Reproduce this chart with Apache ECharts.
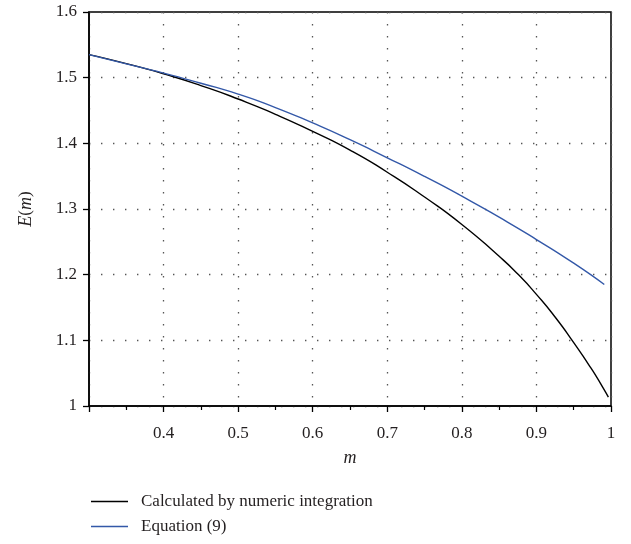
<!DOCTYPE html>
<html>
<head>
<meta charset="utf-8">
<script src="https://cdn.jsdelivr.net/npm/echarts@6/dist/echarts.min.js"></script>
<style>
html,body{margin:0;padding:0;background:#fff;}
#chart{width:631px;height:544px;}
</style>
</head>
<body>
<div id="chart"></div>
<script>
// Data
const numericX = [0.30, 0.35, 0.40, 0.45, 0.50, 0.55, 0.60, 0.65, 0.70, 0.75, 0.80, 0.85, 0.875, 0.90, 0.925, 0.95, 0.97, 0.98, 0.99, 0.9965];
const numericY = [1.535, 1.5213, 1.5058, 1.488, 1.4675, 1.4442, 1.4181, 1.3897, 1.356, 1.3182, 1.2765, 1.2279, 1.2009, 1.170, 1.1355, 1.0965, 1.063, 1.0455, 1.0265, 1.0136];
const eq9X = [0.30, 0.35, 0.40, 0.45, 0.50, 0.55, 0.60, 0.65, 0.70, 0.75, 0.80, 0.85, 0.90, 0.95, 0.991];
const eq9Y = [1.535, 1.521, 1.507, 1.4915, 1.475, 1.4545, 1.431, 1.4055, 1.378, 1.3495, 1.3195, 1.2875, 1.2535, 1.2175, 1.185];
const seriesNames = ['Calculated by numeric integration', 'Equation (9)'];
const xTicks = [0.3, 0.4, 0.5, 0.6, 0.7, 0.8, 0.9, 1.0];
const yTicks = [1.0, 1.1, 1.2, 1.3, 1.4, 1.5, 1.6];

const font = '"Liberation Serif", "DejaVu Serif", serif';
const textColor = '#231f20';
const gridDots = { color: '#555', width: 1.3, type: [1.4, 10.6] };

const chart = echarts.init(document.getElementById('chart'));
chart.setOption({
  animation: false,
  backgroundColor: '#fff',
  grid: {
    left: 89, right: 20, top: 12, height: 394,
    show: true, borderColor: '#000', borderWidth: 1.5, backgroundColor: 'transparent'
  },
  legend: {
    orient: 'vertical', left: 86, top: 487,
    itemWidth: 37, itemHeight: 1.3, itemGap: 6,
    icon: 'rect',
    data: seriesNames,
    textStyle: { fontFamily: font, fontSize: 17, color: textColor, padding: [0, 0, 0, 8], lineHeight: 19 }
  },
  xAxis: {
    type: 'value',
    min: xTicks[0], max: xTicks[xTicks.length - 1], interval: 0.1,
    name: '{i|m}', nameLocation: 'middle', nameGap: 43,
    nameTextStyle: { fontFamily: font, fontSize: 17, color: textColor,
      rich: { i: { fontFamily: font, fontStyle: 'italic', fontSize: 18, color: textColor } } },
    axisLine: { show: true, onZero: false, lineStyle: { color: '#000', width: 1.5 } },
    axisTick: { show: true, inside: false, length: 6, lineStyle: { color: '#000', width: 1.3 } },
    minorTick: { show: true, splitNumber: 2, length: 4, lineStyle: { color: '#000', width: 1.2 } },
    axisLabel: {
      margin: 19, fontFamily: font, fontSize: 17, color: textColor,
      formatter: v => (Math.abs(v - xTicks[0]) < 1e-9 ? '' : String(+v.toFixed(1)))
    },
    splitLine: { show: true, lineStyle: gridDots }
  },
  yAxis: {
    type: 'value',
    min: yTicks[0], max: yTicks[yTicks.length - 1], interval: 0.1,
    name: '{i|E}({i|m})', nameLocation: 'middle', nameGap: 54,
    nameTextStyle: { fontFamily: font, fontSize: 17, color: textColor,
      rich: { i: { fontFamily: font, fontStyle: 'italic', fontSize: 18, color: textColor } } },
    axisLine: { show: true, onZero: false, lineStyle: { color: '#000', width: 1.5 } },
    axisTick: { show: true, inside: false, length: 6, lineStyle: { color: '#000', width: 1.3 } },
    axisLabel: {
      margin: 12, fontFamily: font, fontSize: 17, color: textColor,
      formatter: v => String(+v.toFixed(1))
    },
    splitLine: { show: true, lineStyle: gridDots }
  },
  series: [
    {
      name: seriesNames[0], type: 'line', smooth: 0.6, showSymbol: false, symbol: 'none',
      data: numericX.map((x, i) => [x, numericY[i]]),
      lineStyle: { color: '#000', width: 1.4 }, itemStyle: { color: '#000' }, z: 3
    },
    {
      name: seriesNames[1], type: 'line', smooth: 0.6, showSymbol: false, symbol: 'none',
      data: eq9X.map((x, i) => [x, eq9Y[i]]),
      lineStyle: { color: '#3358a8', width: 1.4 }, itemStyle: { color: '#3358a8' }, z: 4
    }
  ]
});
</script>
</body>
</html>
